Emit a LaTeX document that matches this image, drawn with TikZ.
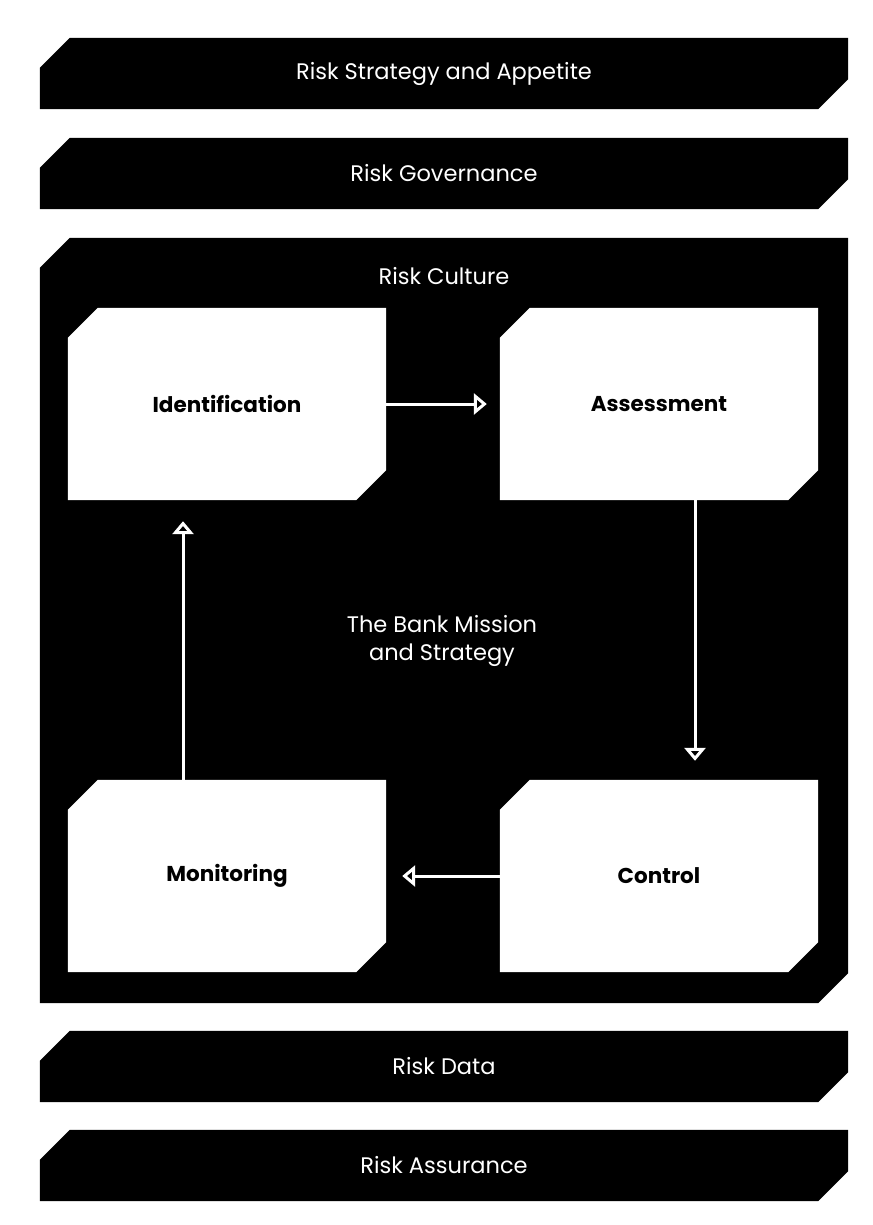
\documentclass[tikz,border=0pt]{standalone}
\usepackage{fontspec}
\setmainfont{Poppins}
\usetikzlibrary{
    arrows.meta,
    positioning,
    calc
}
\pgfdeclarelayer{shapes}
\pgfsetlayers{shapes,main}
\tikzset{
    % --- Full-width band (top and bottom layers) ---
    band/.style = {
        rectangle, inner sep=0pt,
        minimum width=808pt, minimum height=71pt,
        text=white, font=\fontsize{22.5}{28}\selectfont
    },
    % --- Large frame (risk culture) ---
    frame/.style = {
        band, minimum height=765pt
    },
    % --- Process step ---
    stepbox/.style = {
        rectangle, inner sep=0pt,
        minimum width=318pt, minimum height=192pt,
        font=\fontsize{21.5}{26}\selectfont\bfseries
    },
    % --- White label on black ---
    band text/.style = {
        text=white, font=\fontsize{22.5}{28}\selectfont, align=center
    },
    % --- Cycle arrow ---
    cycle arrow/.style = {
        -{Triangle[open, length=13pt, width=21pt]},
        white, line width=3pt, shorten >=16pt
    }
}
% chamfered fill behind a named node: top left and bottom right cut off
\newcommand{\chamferfill}[2]{%
    \fill[#2] ([xshift=30pt]#1.north west) -- (#1.north east)
        -- ([yshift=30pt]#1.south east) -- ([xshift=-30pt]#1.south east)
        -- (#1.south west) -- ([yshift=-30pt]#1.north west) -- cycle;
}

\begin{document}
\begin{tikzpicture}[x=1pt, y=-1pt]

\useasboundingbox (0,0) rectangle (872,1225);

% ---------------------------------------------------------
% Top layers
% ---------------------------------------------------------
\node[band] (Appetite) at (444, 73.5) {Risk Strategy and Appetite};
\node[band] (Governance) at (444, 173.5) {Risk Governance};

% ---------------------------------------------------------
% Risk culture frame
% ---------------------------------------------------------
\node[frame] (Culture) at (444, 620.5) {};
\node[band text] (CultureLabel) at (444, 276) {Risk Culture};

% Mission in the middle
\node[band text] (Mission) at (442, 641) {The Bank Mission\\and Strategy};

% ---------------------------------------------------------
% Process steps
% ---------------------------------------------------------
\node[stepbox] (Ident) at (227, 404) {Identification};
\node[stepbox] (Assess) at (659, 404) {Assessment};
\node[stepbox] (Monitor) at (227, 876) {Monitoring};
\node[stepbox] (Control) at (659, 876) {Control};

\draw[cycle arrow, shorten >=13pt] (Ident) -- (Assess);
\draw[cycle arrow, shorten >=19pt] ([xshift=36pt]Assess.south) -- ([xshift=36pt]Control.north);
\draw[cycle arrow] (Control) -- (Monitor);
\draw[cycle arrow, shorten >=21pt] ([xshift=-44pt]Monitor.north) -- ([xshift=-44pt]Ident.south);

% ---------------------------------------------------------
% Bottom layers
% ---------------------------------------------------------
\node[band] (Data) at (444, 1066.5) {Risk Data};
\node[band] (Assurance) at (444, 1165.5) {Risk Assurance};

% ---------------------------------------------------------
% Chamfered shapes behind the texts
% ---------------------------------------------------------
\begin{pgfonlayer}{shapes}
    \fill[white] (0,0) rectangle (872,1225);
    \foreach \n in {Appetite, Governance, Culture, Data, Assurance}
        {\chamferfill{\n}{black}}
    \foreach \n in {Ident, Assess, Monitor, Control}
        {\chamferfill{\n}{white}}
\end{pgfonlayer}

\end{tikzpicture}
\end{document}
